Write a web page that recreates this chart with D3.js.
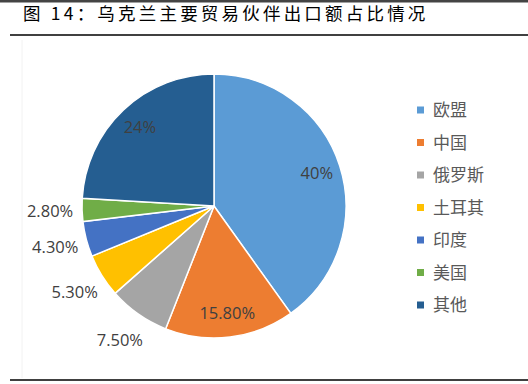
<!DOCTYPE html>
<html><head><meta charset="utf-8">
<script src="https://cdn.jsdelivr.net/npm/d3@7/dist/d3.min.js"></script>
<style>html,body{margin:0;padding:0;background:#fff;}svg{display:block;}</style>
</head><body>
<script>
const categories = ["欧盟","中国","俄罗斯","土耳其","印度","美国","其他"];
const values = [40, 15.8, 7.5, 5.3, 4.3, 2.8, 24];
const labels = ["40%","15.80%","7.50%","5.30%","4.30%","2.80%","24%"];
const labelInside = [true, true, false, false, false, false, true];
const colors = ["#5B9BD5","#ED7D31","#A5A5A5","#FFC000","#4472C4","#70AD47","#255E91"];
const title = "图 14：乌克兰主要贸易伙伴出口额占比情况";

const W = 528, H = 384;
const svg = d3.select("body").append("svg").attr("width", W).attr("height", H);

// frame
svg.append("rect").attr("x",0).attr("y",0).attr("width",W).attr("height",2.5).attr("fill","#444");
svg.append("line").attr("x1",22).attr("x2",22).attr("y1",40).attr("y2",378).attr("stroke","#f2f2f2").attr("stroke-width",1);
svg.append("text").attr("x",23).attr("y",20)
  .attr("font-family","'Noto Sans CJK SC'").attr("font-size",17.5).attr("font-weight",400).attr("letter-spacing",3.2)
  .attr("fill","#000").text(title);
svg.append("line").attr("x1",10).attr("x2",W).attr("y1",35).attr("y2",35).attr("stroke","#000").attr("stroke-width",1.5);
svg.append("line").attr("x1",10).attr("x2",W).attr("y1",380).attr("y2",380).attr("stroke","#000").attr("stroke-width",1.5);

// pie
const cx = 214, cy = 206, r = 132;
const pie = d3.pie().sort(null).value(d => d.v);
const data = categories.map((c,i) => ({c, v: values[i], lab: labels[i], inside: labelInside[i], col: colors[i]}));
const arcs = pie(data);
const arc = d3.arc().innerRadius(0).outerRadius(r);
const inArc = d3.arc().innerRadius(108).outerRadius(108);
const outArc = d3.arc().innerRadius(164).outerRadius(164);
const g = svg.append("g").attr("transform", `translate(${cx},${cy})`);
g.selectAll("path").data(arcs).enter().append("path")
  .attr("d", arc).attr("fill", d => d.data.col).attr("stroke","#fff").attr("stroke-width",1.5);
g.selectAll("text").data(arcs).enter().append("text")
  .attr("transform", d => `translate(${(d.data.inside ? inArc : outArc).centroid(d)})`)
  .attr("text-anchor","middle").attr("dy","0.35em")
  .attr("font-family","'Open Sans'").attr("font-size",16.5).attr("fill","#404040")
  .text(d => d.data.lab);

// legend
const ly = d3.scalePoint().domain(categories).range([110, 305]);
const lg = svg.append("g");
categories.forEach((c,i) => {
  lg.append("rect").attr("x",417).attr("y",ly(c)-3.5).attr("width",7).attr("height",7).attr("fill",colors[i]);
  lg.append("text").attr("x",433).attr("y",ly(c)).attr("dy","0.36em")
    .attr("font-family","'Noto Sans CJK SC'").attr("font-size",17).attr("fill","#595959").text(c);
});
</script>
</body></html>
